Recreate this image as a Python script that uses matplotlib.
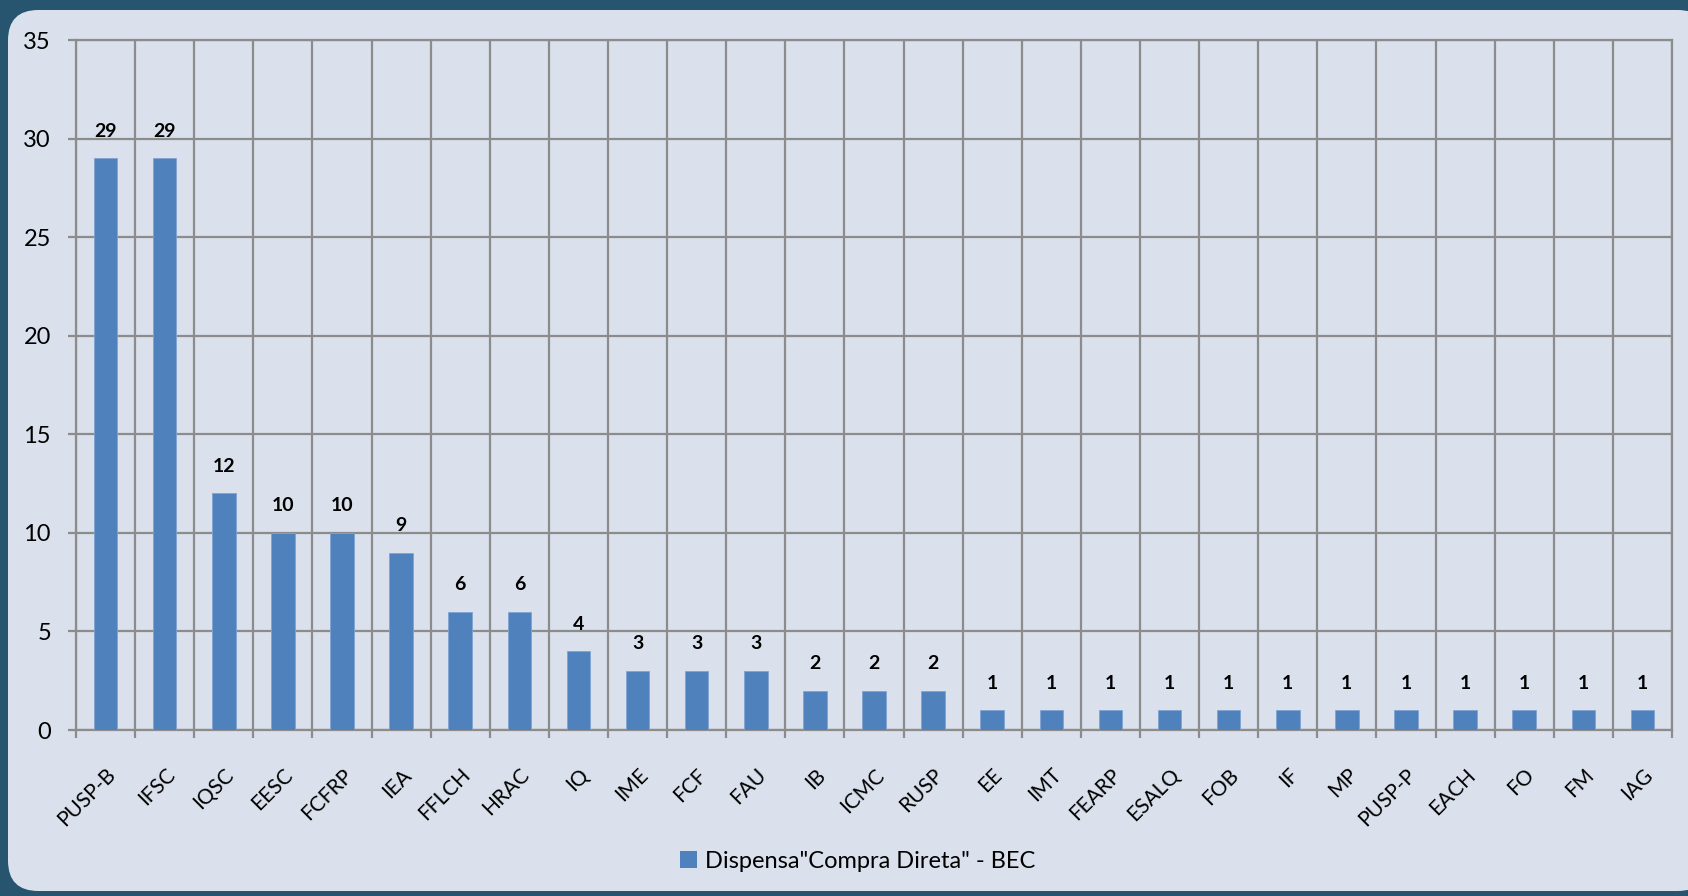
import matplotlib
matplotlib.use("Agg")
import matplotlib.pyplot as plt
from matplotlib.patches import FancyBboxPatch, Rectangle
import matplotlib.transforms as mtransforms
import numpy as np

categories = ["PUSP-B", "IFSC", "IQSC", "EESC", "FCFRP", "IEA", "FFLCH", "HRAC", "IQ",
              "IME", "FCF", "FAU", "IB", "ICMC", "RUSP", "EE", "IMT", "FEARP", "ESALQ",
              "FOB", "IF", "MP", "PUSP-P", "EACH", "FO", "FM", "IAG"]
values = [29, 29, 12, 10, 10, 9, 6, 6, 4, 3, 3, 3, 2, 2, 2, 1, 1, 1, 1, 1, 1, 1, 1, 1, 1, 1, 1]
series_name = 'Dispensa"Compra Direta" - BEC'
yticks = [0, 5, 10, 15, 20, 25, 30, 35]

plt.rcParams['font.family'] = ['Lato', 'DejaVu Sans']

W, H = 1688, 896
fig = plt.figure(figsize=(W / 100, H / 100), dpi=100)
fig.patch.set_facecolor('#27546f')

panel = FancyBboxPatch((8 / W, 5 / H), (W + 20 - 8) / W, (H - 10 - 5) / H,
                       boxstyle="round,pad=0,rounding_size=0.018",
                       transform=fig.transFigure, facecolor='#dae1ec',
                       edgecolor='none', mutation_aspect=W / H, zorder=-5)
fig.patches.append(panel)

ax = fig.add_axes([76 / W, 1 - 730 / H, (1672 - 76) / W, (730 - 40) / H])
ax.set_zorder(2)
ax.set_facecolor('#dae1ec')

n = len(categories)
x = np.arange(n)
bar_color = '#4f81bd'
ax.bar(x, values, width=0.40, color=bar_color, edgecolor='#7fa3d1', linewidth=0.6, zorder=3)

for xi, v in zip(x, values):
    ax.annotate(str(v), (xi, v), xytext=(0, 19.5), textcoords='offset points',
                ha='center', va='center', fontsize=14, fontweight='bold', color='black')

grid_c = '#8c8c8c'
ax.set_xlim(-0.5, n - 0.5)
ax.set_ylim(0, 35)
ax.set_yticks(yticks)
ax.set_yticklabels([str(t) for t in yticks], fontsize=17)
ax.set_xticks(x)
ax.set_xticklabels(categories, fontsize=15, rotation=45, ha='right', va='top',
                   rotation_mode='anchor')
offset = mtransforms.ScaledTranslation(-6 / 100, 0, fig.dpi_scale_trans)
for lbl in ax.get_xticklabels():
    lbl.set_transform(lbl.get_transform() + offset)
ax.set_xticks(np.arange(-0.5, n, 1), minor=True)
ax.tick_params(axis='x', which='major', length=0, pad=25)
ax.tick_params(axis='x', which='minor', length=6, width=1.6, color=grid_c, direction='out')
ax.tick_params(axis='y', which='major', length=6, width=1.6, color=grid_c, pad=12)
ax.grid(True, which='minor', axis='x', color=grid_c, linewidth=1.6, zorder=1)
ax.grid(True, which='major', axis='y', color=grid_c, linewidth=1.6, zorder=1)
ax.set_axisbelow(True)
for s in ax.spines.values():
    s.set_color(grid_c)
    s.set_linewidth(1.6)

handle = Rectangle((0, 0), 1, 1, facecolor=bar_color, edgecolor='none')
fig.legend([handle], [series_name], loc='center', bbox_to_anchor=(858 / W, 1 - 861 / H),
           frameon=False, fontsize=17, handlelength=0.7, handleheight=0.7,
           handletextpad=0.35)

fig.savefig('out.png', dpi=100, facecolor=fig.get_facecolor())
